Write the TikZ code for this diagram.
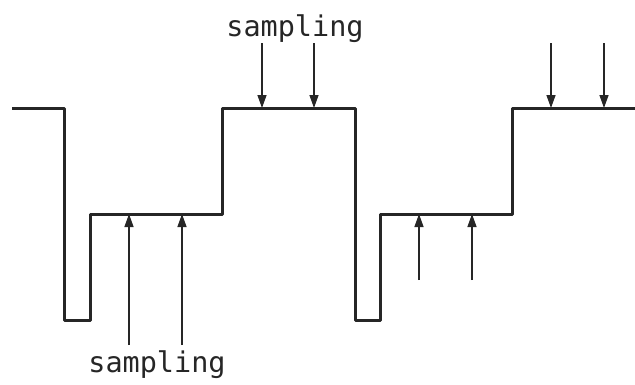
\documentclass[tikz,border=0pt]{standalone}
\usepackage{fontspec}
\setmonofont{DejaVu Sans Mono}
\usetikzlibrary{arrows.meta}

\begin{document}
\begin{tikzpicture}[x=1pt, y=-1pt,
    wave/.style={line width=3pt, line join=round, black!85},
    samplearrow/.style={-{Triangle[length=13pt, width=9pt]}, line width=1.4pt, black!85},
    samplelabel/.style={anchor=base, font=\ttfamily\fontsize{28.5}{30}\selectfont, black!85}]
    \useasboundingbox (0,0) rectangle (635,384);

    % signal
    \draw[wave] (12,108) -- (64,108) -- (64,320) -- (90,320) -- (90,214)
        -- (222,214) -- (222,108) -- (355,108) -- (355,320) -- (380,320)
        -- (380,214) -- (512,214) -- (512,108) -- (635,108);

    % sampling points
    \foreach \name/\x in {ta/262, tb/314, tc/551, td/604}
        \coordinate (\name) at (\x,108);
    \foreach \name/\x in {ba/129, bb/182, bc/419, bd/472}
        \coordinate (\name) at (\x,214);

    \node[samplelabel] (toplabel) at (295,36) {sampling};
    \node[samplelabel] (botlabel) at (157,372) {sampling};

    \draw[samplearrow] (ta |- 0,43) -- (ta);
    \draw[samplearrow] (tb |- 0,43) -- (tb);
    \draw[samplearrow] (tc |- 0,43) -- (tc);
    \draw[samplearrow] (td |- 0,43) -- (td);

    \draw[samplearrow] (ba |- 0,345) -- (ba);
    \draw[samplearrow] (bb |- 0,345) -- (bb);
    \draw[samplearrow] (bc |- 0,280) -- (bc);
    \draw[samplearrow] (bd |- 0,280) -- (bd);
\end{tikzpicture}
\end{document}
